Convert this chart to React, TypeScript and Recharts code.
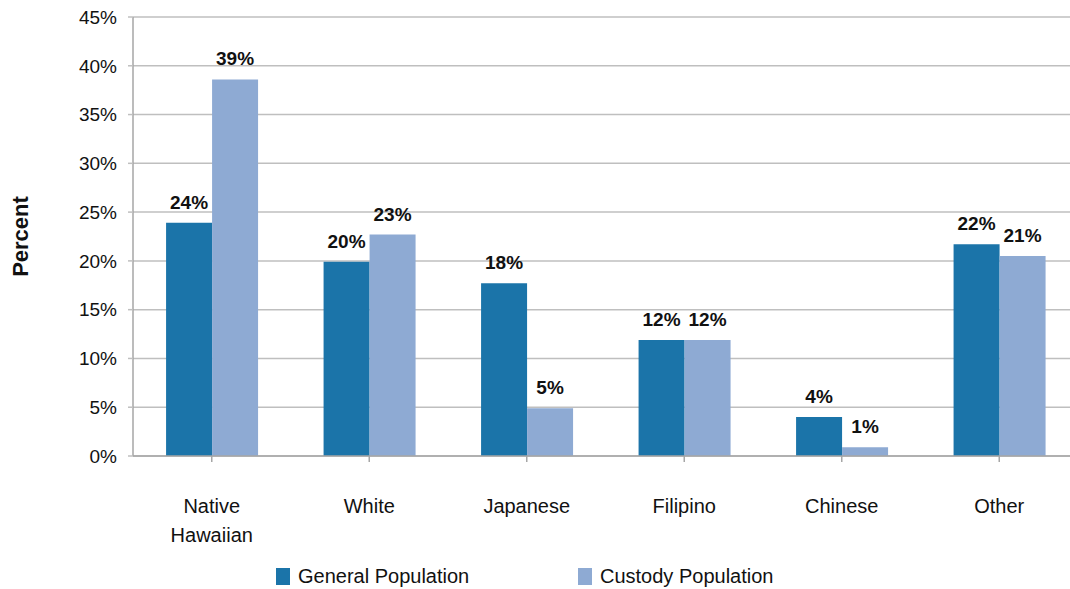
import { BarChart, Bar, XAxis, YAxis, CartesianGrid, LabelList, Legend } from 'recharts'

const categories = ['Native Hawaiian', 'White', 'Japanese', 'Filipino', 'Chinese', 'Other']
const generalPopulation = [23.9, 19.9, 17.7, 11.9, 4.0, 21.7]
const custodyPopulation = [38.6, 22.7, 4.9, 11.9, 0.9, 20.5]
const yTicks = [0, 5, 10, 15, 20, 25, 30, 35, 40, 45]

const FONT = "'Liberation Sans', Arial, sans-serif"
const DARK = '#1b74a9'
const LIGHT = '#8eaad3'

const data = categories.map((name, i) => ({
  name,
  general: generalPopulation[i],
  custody: custodyPopulation[i],
}))

const CategoryTick = ({ x, y, payload }: any) => {
  const lines = String(payload.value).split(' ')
  return (
    <text x={x} y={y + 49} textAnchor="middle" fill="#111" fontSize={20} fontFamily={FONT}>
      {lines.map((l, i) => (
        <tspan key={i} x={x} dy={i === 0 ? 0 : 29}>{l}</tspan>
      ))}
    </text>
  )
}

const LegendContent = () => (
  <div style={{ position: 'relative', height: 30, fontFamily: FONT, fontSize: 20, color: '#111' }}>
    {[
      { label: 'General Population', color: DARK, left: 276 },
      { label: 'Custody Population', color: LIGHT, left: 578 },
    ].map(it => (
      <div key={it.label} style={{ position: 'absolute', left: it.left, top: 10, display: 'flex', alignItems: 'flex-start' }}>
        <span style={{ width: 14, height: 17, background: it.color, display: 'inline-block', marginRight: 8, marginTop: 2 }} />
        <span style={{ lineHeight: '21px' }}>{it.label}</span>
      </div>
    ))}
  </div>
)

const labelStyle = { fill: '#111', fontSize: 19, fontWeight: 'bold', fontFamily: FONT }

export default function App() {
  return (
    <div style={{ position: 'absolute', left: 0, top: 0, width: 1070, height: 589, overflow: 'hidden', background: '#fff' }}>
      <BarChart
        width={1090}
        height={589}
        data={data}
        margin={{ top: 17, right: 12, bottom: 0, left: 0 }}
        barCategoryGap="21%"
        barGap={0}
      >
        <CartesianGrid vertical={false} stroke="#bfbfbf" strokeWidth={1.5} />
        <XAxis
          dataKey="name"
          height={100}
          interval={0}
          tick={<CategoryTick />}
          axisLine={{ stroke: '#a6a6a6', strokeWidth: 1.5 }}
          tickLine={{ stroke: '#a6a6a6', strokeWidth: 1.5 }}
          tickSize={6}
        />
        <YAxis
          width={133}
          domain={[0, 45]}
          ticks={yTicks}
          interval={0}
          tickFormatter={(v: number) => `${v}%`}
          tick={{ fill: '#111', fontSize: 19, fontFamily: FONT }}
          axisLine={{ stroke: '#a6a6a6', strokeWidth: 1.5 }}
          tickLine={{ stroke: '#bfbfbf', strokeWidth: 1.5 }}
          tickSize={5}
          tickMargin={11}
          label={{
            value: 'Percent',
            angle: -90,
            position: 'insideLeft',
            offset: 20,
            style: { fill: '#111', fontSize: 22, fontWeight: 'bold', fontFamily: FONT, textAnchor: 'middle' },
          }}
        />
        <Legend verticalAlign="bottom" height={33} content={<LegendContent />} />
        <Bar dataKey="general" name="General Population" fill={DARK} isAnimationActive={false}>
          <LabelList
            dataKey="general"
            position="top"
            offset={14}
            formatter={(v: any) => `${Math.round(v)}%`}
            style={labelStyle}
          />
        </Bar>
        <Bar dataKey="custody" name="Custody Population" fill={LIGHT} isAnimationActive={false}>
          <LabelList
            dataKey="custody"
            position="top"
            offset={14}
            formatter={(v: any) => `${Math.round(v)}%`}
            style={labelStyle}
          />
        </Bar>
      </BarChart>
    </div>
  )
}
